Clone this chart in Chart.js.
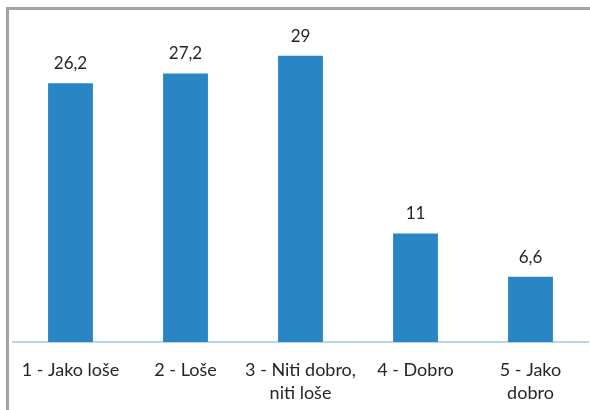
<!DOCTYPE html>
<html>
<head>
<meta charset="utf-8">
<script src="https://cdn.jsdelivr.net/npm/chart.js@4"></script>
<style>
  body { margin: 0; background: #fff; }
  #frame { position: absolute; left: 6px; top: 7px; width: 600px; height: 420px;
           border-top: 3px solid #a3a3a3; border-left: 3px solid #a3a3a3; }
  #wrap { position: absolute; left: 0; top: 0; width: 590px; height: 410px; }
</style>
</head>
<body>
<div id="frame"></div>
<div id="wrap"><canvas id="chart"></canvas></div>
<script>
var categories = [['1 - Jako loše'], ['2 - Loše'], ['3 - Niti dobro,', 'niti loše'], ['4 - Dobro'], ['5 - Jako', 'dobro']];
var values = [26.2, 27.2, 29, 11, 6.6];

var fontName = 'Lato, "Open Sans", sans-serif';
var textColor = '#262626';

// value labels above the bars
var valueLabels = {
    id: 'valueLabels',
    afterDatasetsDraw: function(chart) {
        var ctx = chart.ctx;
        var meta = chart.getDatasetMeta(0);
        ctx.save();
        ctx.font = '17px ' + fontName;
        ctx.fillStyle = textColor;
        ctx.textAlign = 'center';
        ctx.textBaseline = 'alphabetic';
        meta.data.forEach(function(bar, i) {
            ctx.fillText(String(values[i]).replace('.', ','), bar.x, bar.y - 14);
        });
        ctx.restore();
    }
};

new Chart(document.getElementById('chart'), {
    type: 'bar',
    data: {
        labels: categories,
        datasets: [{
            data: values,
            backgroundColor: '#2a85c4',
            borderWidth: 0,
            categoryPercentage: 1,
            barPercentage: 0.39
        }]
    },
    options: {
        responsive: true,
        maintainAspectRatio: false,
        animation: false,
        layout: { padding: { left: 13, right: 2, top: 26, bottom: 0 } },
        plugins: {
            legend: { display: false },
            tooltip: { enabled: false }
        },
        scales: {
            x: {
                grid: { display: false, drawTicks: false },
                border: { display: true, color: '#b7d5ea', width: 2 },
                ticks: {
                    color: textColor,
                    padding: 16,
                    maxRotation: 0,
                    autoSkip: false,
                    font: { family: fontName, size: 18, lineHeight: 1.3 }
                },
                afterFit: function(scale) { scale.height = 68; }
            },
            y: {
                display: false,
                min: 0,
                max: 32
            }
        }
    },
    plugins: [valueLabels]
});
</script>
</body>
</html>
